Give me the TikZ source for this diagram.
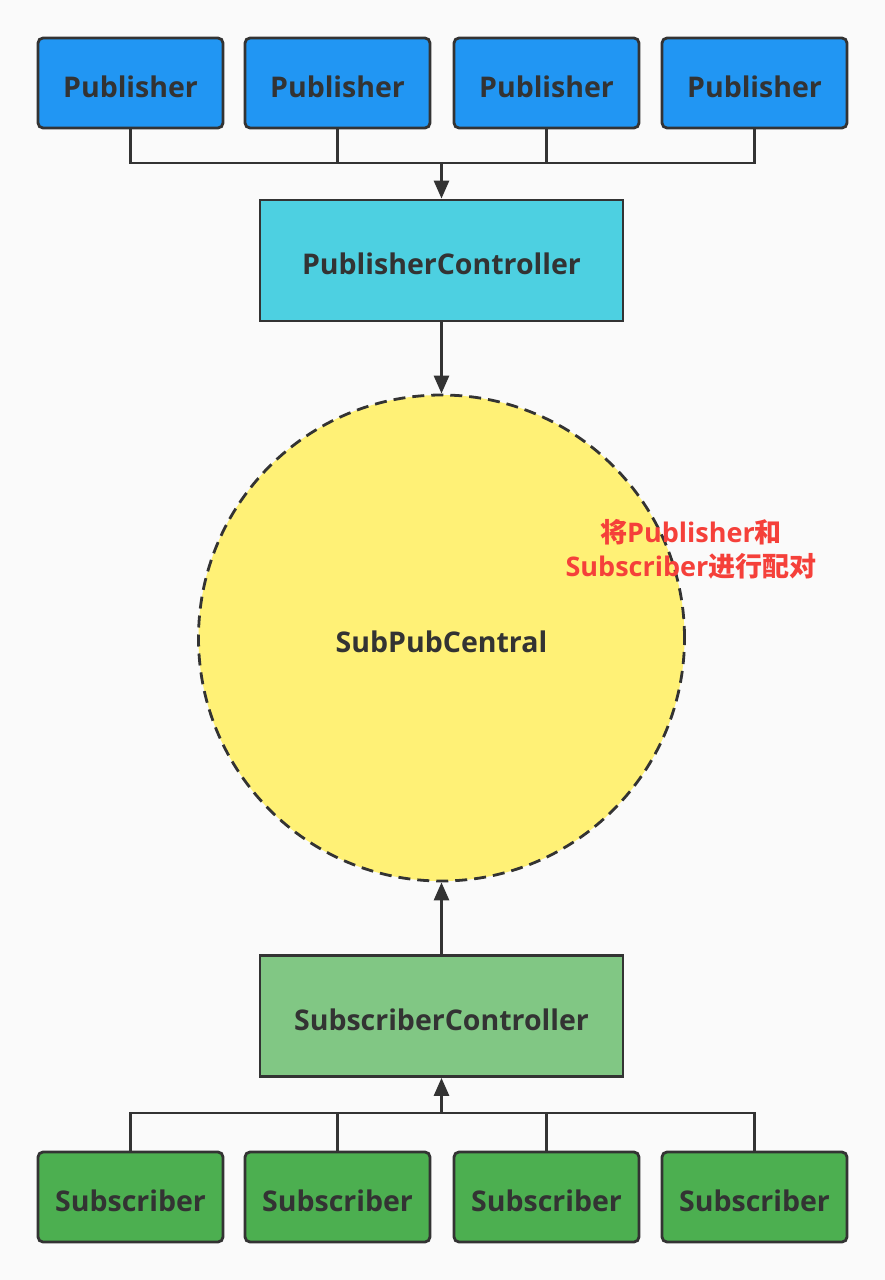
\documentclass[tikz,border=0pt]{standalone}
\usepackage{fontspec}
\setmainfont{Open Sans}
\newfontfamily\cjk{Noto Sans CJK SC}
\usetikzlibrary{arrows.meta}
\definecolor{bg}{HTML}{FAFAFA}
\definecolor{ink}{HTML}{333333}
\definecolor{pubblue}{HTML}{2196F3}
\definecolor{ctrlcyan}{HTML}{4DD0E1}
\definecolor{centyellow}{HTML}{FFF176}
\definecolor{ctrlgreen}{HTML}{81C784}
\definecolor{subgreen}{HTML}{4CAF50}
\definecolor{notered}{HTML}{F5403A}
\tikzset{
  base/.style={draw=ink, line width=2.8pt, text=ink, inner sep=0pt,
    text height=28pt, text depth=0pt,
    font=\bfseries\fontsize{28.5}{32}\selectfont},
  leaf/.style={base, rounded corners=5pt, minimum width=185pt, minimum height=90pt},
  pubbox/.style={leaf, fill=pubblue},
  subbox/.style={leaf, fill=subgreen},
  ctrl/.style={base, minimum width=363pt, minimum height=121pt},
  central/.style={base, circle, fill=centyellow, minimum size=486pt,
    dash pattern=on 12pt off 7pt},
  conn/.style={draw=ink, line width=2.8pt},
  arr/.style={conn, -{Triangle[width=15pt,length=18pt]}},
  note/.style={text=notered, align=center, inner sep=0pt,
    font=\bfseries\fontsize{27}{34}\selectfont}
}
\begin{document}
\begin{tikzpicture}[x=1pt,y=-1pt]
\fill[bg] (0,0) rectangle (885,1280);
\useasboundingbox (0,0) rectangle (885,1280);

\node[pubbox] (p1) at (130.5,83) {Publisher};
\node[pubbox] (p2) at (337.5,83) {Publisher};
\node[pubbox] (p3) at (546.5,83) {Publisher};
\node[pubbox] (p4) at (754.5,83) {Publisher};

\node[ctrl, fill=ctrlcyan] (pc) at (441.5,260.5) {PublisherController};
\node[central] (c) at (441.5,638) {SubPubCentral};
\node[ctrl, fill=ctrlgreen] (sc) at (441.5,1016) {SubscriberController};

\node[subbox] (s1) at (130.5,1197) {Subscriber};
\node[subbox] (s2) at (337.5,1197) {Subscriber};
\node[subbox] (s3) at (546.5,1197) {Subscriber};
\node[subbox] (s4) at (754.5,1197) {Subscriber};

\node[note] (n) at (691,549) {{\cjk 将}Publisher{\cjk 和}\\Subscriber{\cjk 进行配对}};

\coordinate (pbus) at (441.5,163);
\coordinate (sbus) at (441.5,1113);

\draw[conn] (p1.south) |- (pbus);
\draw[conn] (p2.south) |- (pbus);
\draw[conn] (p3.south) |- (pbus);
\draw[conn] (p4.south) |- (pbus);
\draw[arr] (pbus) -- (pc.north);
\draw[arr] (pc.south) -- (c.north);
\draw[arr] (sc.north) -- (c.south);
\draw[conn] (s1.north) |- (sbus);
\draw[conn] (s2.north) |- (sbus);
\draw[conn] (s3.north) |- (sbus);
\draw[conn] (s4.north) |- (sbus);
\draw[arr] (sbus) -- (sc.south);
\end{tikzpicture}
\end{document}
